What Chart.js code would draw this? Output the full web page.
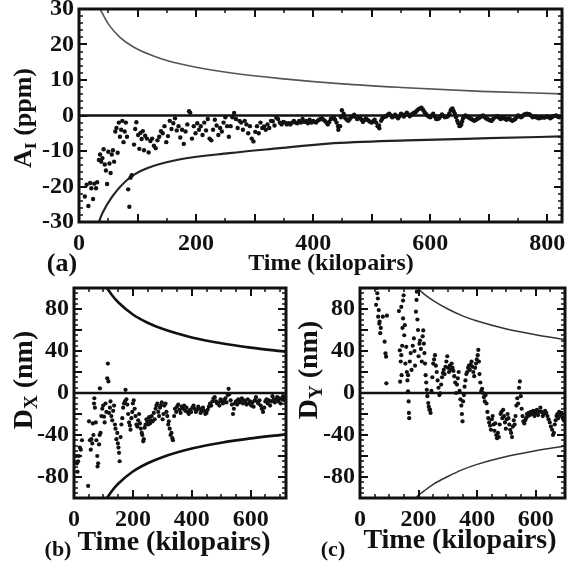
<!DOCTYPE html>
<html>
<head>
<meta charset="utf-8">
<script src="https://cdn.jsdelivr.net/npm/chart.js@4.4.0/dist/chart.umd.min.js"></script>
<style>
  body { margin:0; background:#fff; width:569px; height:567px; position:relative; overflow:hidden;
         font-family:"Liberation Serif", "Times New Roman", serif; font-weight:bold; color:#111; }
  canvas { position:absolute; }
  .lbl { position:absolute; white-space:nowrap; transform:translate(-50%,-50%); line-height:1; }
  .rot { transform:translate(-50%,-50%) rotate(-90deg); }
  sub { font-size:68%; vertical-align:baseline; position:relative; top:0.28em; }
</style>
</head>
<body>
<canvas id="chartA" width="569" height="260" style="left:0;top:0"></canvas>
<canvas id="chartB" width="290" height="262" style="left:0;top:270px"></canvas>
<canvas id="chartC" width="279" height="262" style="left:290px;top:270px"></canvas>

<div class="lbl rot" style="left:23px;top:118px;font-size:26px">A<sub>I</sub> (ppm)</div>
<div class="lbl" style="left:331px;top:262px;font-size:24px">Time (kilopairs)</div>
<div class="lbl" style="left:62px;top:263px;font-size:26px">(a)</div>

<div class="lbl rot" style="left:23px;top:380px;font-size:28px">D<sub>X</sub> (nm)</div>
<div class="lbl" style="left:174px;top:541px;font-size:28px">Time (kilopairs)</div>
<div class="lbl" style="left:58px;top:549px;font-size:22px">(b)</div>

<div class="lbl rot" style="left:308px;top:370px;font-size:28px">D<sub>Y</sub> (nm)</div>
<div class="lbl" style="left:460px;top:539px;font-size:28px">Time (kilopairs)</div>
<div class="lbl" style="left:333px;top:549px;font-size:22px">(c)</div>

<script>
// ---- panel (a): A_I (ppm) vs time
const aTime = [10,13,16,19,21,24,26,29,31,34,36,38,40,42,44,46,48,50,52,54,56,58,60,62,64,66,68,70,72,74,76,78,80,82,84,86,88,90,94,96,98,101,103,105,107,109,111,113,116,119,122,125,128,131,134,137,140,143,146,149,152,155,158,161,164,167,170,173,176,179,182,185,188,190,193,196,199,202,205,208,211,214,217,220,223,226,229,232,235,238,241,244,247,250,253,256,259,
  262,265,268,271,274,277,280,283,286,289,292,295,298,301,304,307,310,313,316,319,322,325,328,331,334,337,340,343,346,349,352,355,358,361,364,367,370,373,376,379,382,385,388,391,394,397,
  400,405,410,415,420,425,430,435,440,443,446,449,452,455,460,465,470,475,480,485,490,495,500,505,510,513,516,520,525,530,535,540,545,550,555,560,565,570,575,580,585,590,595,600,605,610,615,620,625,630,635,638,642,646,650,653,656,660,665,670,675,680,685,690,695,700,705,710,715,720,725,730,735,740,745,750,755,760,765,770,775,780,785,790,795,800,805,810,815,820,
  402.5,407.5,412.5,417.5,422.5,427.5,432.5,437.5,442.5,447.5,452.5,457.5,462.5,467.5,472.5,477.5,482.5,487.5,492.5,497.5,502.5,507.5,512.5,517.5,522.5,527.5,532.5,537.5,542.5,547.5,552.5,557.5,562.5,567.5,572.5,577.5,582.5,587.5,592.5,597.5,602.5,607.5,612.5,617.5,622.5,627.5,632.5,636.5,640,644,648,651.5,654.5,657.5,662.5,667.5,672.5,677.5,682.5,687.5,692.5,697.5,702.5,707.5,712.5,717.5,722.5,727.5,732.5,737.5,742.5,747.5,752.5,757.5,762.5,767.5,772.5,777.5,782.5,787.5,792.5,797.5,802.5,807.5,812.5,817.5];
const aValue = [-22.8,-19.5,-25.5,-19.0,-20.5,-23.5,-19.2,-20.5,-18.8,-12.5,-11.0,-13.0,-12.0,-9.5,-13.8,-15.5,-19.3,-10.2,-13.5,-16.2,-11.0,-9.8,-13.0,-4.5,-3.5,-10.5,-2.0,-6.0,-4.0,-1.5,-7.5,-4.5,-2.0,-6.0,-20.8,-25.7,-17.5,-16.8,-8.2,-3.8,-1.9,-5.5,-9.4,-4.9,-6.6,-4.4,-9.8,-5.7,-6.5,-10.4,-7.2,-6.5,-8.5,-9.2,-7.0,-6.0,-4.4,-5.0,-3.0,-7.5,-5.8,-1.5,-3.8,-2.2,-0.8,-4.2,-3.0,-6.2,-4.0,-8.0,-4.5,-2.5,1.2,0.8,-6.5,-3.0,-5.0,-2.2,-4.0,-3.0,-5.5,-2.0,-4.2,-1.0,-6.5,-7.0,-4.0,-1.2,-2.8,-5.5,-3.5,-4.5,-2.0,-0.5,-3.0,-6.0,-3.0,
  -0.5,0.7,-1.0,-3.5,-1.5,-2.0,-4.0,-1.5,-2.5,-5.0,-3.0,-6.5,-7.3,-4.6,-3.0,-5.0,-2.0,-3.5,-3.1,-4.0,-2.5,-3.5,-1.5,-1.6,-2.8,-0.6,-1.0,-2.0,-2.5,-1.8,-2.0,-2.5,-2.2,-2.5,-2.0,-1.5,-2.0,-2.2,-1.5,-2.0,-1.0,-1.8,-1.5,-2.2,-1.2,-2.0,
  -1.5,-2.0,-1.2,-0.8,-1.5,-2.5,-1.0,-0.5,-2.0,-4.0,-3.0,1.5,0.5,-0.8,-1.5,-0.5,0.2,-1.0,-0.5,-1.8,-0.8,-1.5,-2.0,-1.2,-3.0,-3.6,-1.5,-0.5,-0.2,0.5,-0.5,0.2,-0.8,0.5,-0.3,0.8,-0.2,0.5,1.0,1.8,2.2,1.0,0.0,-0.5,0.5,-1.0,-0.8,0.3,-0.5,-0.2,1.5,2.0,0.5,-1.5,-3.0,-2.5,-0.8,0.0,-0.5,-1.0,-1.5,-1.0,-0.5,0.0,-0.8,-1.2,-1.5,-0.5,-0.2,-1.0,-0.5,-1.2,-0.8,-1.5,-1.0,0.0,-0.5,0.2,0.5,0.3,-0.5,-0.3,-0.8,-0.5,-0.6,-0.3,-0.8,-0.2,0.0,-0.5,
  -1.8,-1.5,-1.0,-1.2,-2.0,-1.8,-0.8,-1.2,-3.0,-0.5,0.0,-1.2,-1.0,-0.2,-0.4,-0.8,-1.2,-1.3,-1.2,-1.8,-1.6,-2.0,-2.8,-1.0,-0.3,0.2,0.0,-0.2,-0.3,-0.2,0.2,0.3,0.3,0.2,0.8,1.4,2.0,1.6,0.5,-0.3,0.0,-0.3,-1.0,-0.2,-0.1,-0.4,0.6,1.8,1.2,-0.5,-2.2,-2.8,-1.6,-0.4,-0.2,-0.8,-1.2,-1.3,-0.8,-0.2,-0.4,-1.0,-1.4,-1.0,-0.3,-0.6,-0.8,-0.9,-1.0,-1.2,-1.3,-0.5,-0.2,-0.2,0.4,0.4,-0.1,-0.4,-0.6,-0.7,-0.5,-0.4,-0.5,-0.5,-0.1,-0.3];
const aUpperTime = [36,50,70,93,125,150,200,264,345,450,550,687,825];
const aUpperValue = [30,25.8,22,19.3,16.9,15.5,13.6,11.9,10.4,8.9,7.9,6.8,6.1];
const aLowerTime = [34,40,57,86,114,171,257,343,426,560,700,825];
const aLowerValue = [-30,-27.5,-22.8,-17.6,-15.0,-12.4,-10.6,-9.2,-7.9,-7.0,-6.4,-5.9];
const aXLabels = [0, 200, 400, 600, 800];
const aYLabels = [-30, -20, -10, 0, 10, 20, 30];
const aTicks = { xMax: 825, xMajor: 100, xMinor: 50, yMin: -30, yMax: 30, yMajor: 10, yMinor: 2 };

// ---- panel (b): D_X (nm) vs time
const bTime = [8,10,12,14,17,20,23,27,48,51,54,57,59,62,64,66,68,69,71,74,76,79,80,82,85,87,88,90,93,96,99,102,104,107,110,113,115,117,119,122,124,127,130,133,136,139,141,144,147,149,151,153,155,158,161,164,167,170,173,175,178,181,184,187,190,192,195,198,200,203,206,209,212,215,218,221,224,227,230,232,235,237,240,243,246,249,252,255,258,261,264,267,271,274,277,280,283,286,289,292,295,298,301,304,307,311,314,317,320,322,325,328,331,334,336,340,343,347,350,354,358,362,366,370,374,378,382,386,390,394,398,402,406,410,414,418,422,426,430,434,438,442,446,450,454,458,462,466,470,474,478,482,486,490,494,498,502,506,510,514,518,522,525,528,532,536,540,543,546,550,554,558,562,566,570,574,578,582,586,590,594,598,602,606,610,614,618,622,626,630,634,638,642,646,650,654,658,662,666,670,674,678,682,686,690,694,698,702,706,710,714,718];
const bValue = [-60,-67,-75,-65,-60,-52,-54,-45,-88.5,-27,-45,-54,-44,-48,-29,-40,-10,-5,-14,-28,-45,-60,-70,-67,-49,-40,4.4,-38,-22,-15,-12,-22.5,-28,-10,-18,14,28,11,-19,-14,-8,-22,-26,-17,-12,-30,-34,-44,-38,-48,-52,-57,-65,-42,-30,-24,-14,-10,-8,3,-6,-11,-20,-28,-31,-35,-24,-18,-10,-7,-15,-22,-30,-32,-26,-20,-29,-34,-38,-40,-46,-44,-33,-30,-25,-27,-30,-23,-29,-26,-22,-27,-19,-25,-15,-12,-10,-18,-22,-14,-12,-9,-25,-20,-12,-10,-18,-22,-30,-27,-34,-40,-38,-43,-45,-22,-15,-18,-13,-11,-16,-19,-13,-15,-12,-17,-14,-18,-20,-16,-18,-14,-12,-15,-18,-16,-13,-15,-19,-17,-14,-17,-20,-19,-16,-13,-10,-12,-8,-5,-4,-8,-10,-9,-12,-6,-8,-10,-7,-5,-9,-2,4,-1,-7,-11,-20,-15,-10,-8,-11,-6,-9,-8,-5,-10,-7,-9,-11,-6,-10,-8,-12,-9,-13,-7,-4,-8,-10,-7,-12,-15,-18,-14,-8,-6,-10,-7,-12,-8,-3,-6,-9,-6,-4,-8,-5,-10,-6,-3,-7,-5];
const bUpperTime = [112,130,150,200,250,300,400,500,600,720];
const bUpperValue = [100,92.8,86.4,74.8,66.9,61.1,52.9,47.3,43.2,39.4];
const bLowerTime = [112,130,150,200,250,300,400,500,600,720];
const bLowerValue = [-100,-92.8,-86.4,-74.8,-66.9,-61.1,-52.9,-47.3,-43.2,-39.4];
const bXLabels = [0, 200, 400, 600];
const bYLabels = [-80, -40, 0, 40, 80];
const bTicks = { xMax: 720, xMajor: 200, xMinor: 50, yMin: -100, yMax: 100, yMajor: 20, yMinor: 5 };

// ---- panel (c): D_Y (nm) vs time
const cTime = [55,57,59,61,62,64,66,67,69,71,78,84,87,89,90,92,133,136,137,139,141,141,142,144,145,147,147,149,151,153,155,158,160,162,164,164,166,167,168,170,173,176,180,184,186,188,191,193,194,196,198,200,203,205,208,211,214,216,218,220,222,224,226,228,230,233,235,237,239,241,244,247,250,253,256,259,262,265,268,271,274,277,280,283,286,289,292,295,298,301,304,307,310,313,316,319,322,325,328,331,334,337,340,343,346,348,350,352,355,357,360,363,366,369,372,375,378,381,384,387,390,393,396,399,402,404,406,408,411,414,417,420,423,426,429,432,435,438,441,444,447,450,453,456,459,462,465,468,471,474,477,480,483,486,489,492,495,498,501,504,507,510,513,516,519,522,525,528,531,534,537,540,543,546,549,552,555,558,561,564,567,570,573,576,580,584,588,592,596,600,604,608,612,616,620,624,628,632,636,640,644,648,652,656,659,662,665,668,671,674,677,680,684,688,692,696];
const cValue = [84,100,95,90,72.7,79,66,68,57,62,72.7,48.9,37.8,34.6,9.2,73.6,78,40.6,10.8,30,82,36,17,45,62,88,71,93,55,64.6,28,44,20,12,17,1.6,-8,-19,-24,30,38,22,45,52,40,26,77.5,88.6,96.5,70,60,35,47,50,42,30,54,59.6,47,38,28,17,10,3,-3,-9.5,-13,-16,-15.8,-19,2,15,28,32,36,26,20,12,5,-2,-0.3,8,15,19,22,18,25,30,35,24,20,26,22,28,24,21,16,10,0,8,14,20,2,-6,-12,-20,-27,-8,-2,6,12,18,20,24,26,22,27,30,25,20,16,24,28,32,36,41,30,18,10,2,4,0,-4,-8,-2,-10,-18,-24,-28,-31,-35,-25,-22,-30,-36,-28.9,-40,-43,-38,-42,-30,-20,-18,-24,-16,-22,-28,-34,-25,-20,-24,-30,-35,-38,-42,-32,-26,-30,-22,-12,-5,-10,5,11,-3,-15,-22,-27,-29,-26,-24,-20,-22,-19,-21,-18,-20,-17,-22,-19,-16,-21,-17.8,-14,-18,-22,-20,-17,-19,-22,-25,-28,-32,-35,-40,-38,-30,-26,-22,-20,-24,-18,-21,-19,-23,-26];
const cUpperTime = [195,220,250,300,350,400,500,600,700];
const cUpperValue = [100,94,88,80,73.5,68.5,61,55.5,51];
const cLowerTime = [188,220,250,300,350,400,500,600,700];
const cLowerValue = [-100,-93,-87,-79.5,-73,-68,-60.5,-55,-50.5];
const cXLabels = [0, 200, 400, 600];
const cYLabels = [-80, -40, 0, 40, 80];
const cTicks = { xMax: 700, xMajor: 200, xMinor: 50, yMin: -100, yMax: 100, yMajor: 20, yMinor: 5 };

const INK = '#111';
const tickFont = { family: 'Liberation Serif', size: 24, weight: 'bold' };

// inward ticks on all four sides + heavy frame
const framePlugin = {
  id: 'frame',
  afterDatasetsDraw(chart, args, opts) {
    const { ctx, chartArea: a, scales: { x, y } } = chart;
    ctx.save();
    ctx.strokeStyle = INK;
    const drawTicks = (scale, step, len, lw) => {
      ctx.lineWidth = lw;
      ctx.beginPath();
      for (let v = Math.ceil(scale.min / step) * step; v <= scale.max + 1e-9; v += step) {
        const p = Math.round(scale.getPixelForValue(v));
        if (scale.isHorizontal()) {
          ctx.moveTo(p, a.bottom); ctx.lineTo(p, a.bottom - len);
          ctx.moveTo(p, a.top); ctx.lineTo(p, a.top + len);
        } else {
          ctx.moveTo(a.left, p); ctx.lineTo(a.left + len, p);
          ctx.moveTo(a.right, p); ctx.lineTo(a.right - len, p);
        }
      }
      ctx.stroke();
    };
    drawTicks(x, opts.xMinor, 4, 1.5);
    drawTicks(x, opts.xMajor, 8, 2);
    drawTicks(y, opts.yMinor, 4, 1.5);
    drawTicks(y, opts.yMajor, 8, 2);
    ctx.lineWidth = 3;
    ctx.strokeRect(a.left, a.top, a.right - a.left, a.bottom - a.top);
    ctx.restore();
  }
};

function makePanel(id, p) {
  const pairs = (xs, ys) => xs.map((t, i) => ({ x: t, y: ys[i] }));
  const zero = [{ x: 0, y: 0 }, { x: p.ticks.xMax, y: 0 }];
  const curve = (data, color, width) => ({
    data, showLine: true, borderColor: color, borderWidth: width,
    pointRadius: 0, cubicInterpolationMode: 'monotone', order: 2
  });

  return new Chart(document.getElementById(id), {
    type: 'scatter',
    data: {
      datasets: [
        { data: zero, showLine: true, borderColor: INK, borderWidth: 2.5, pointRadius: 0, order: 3 },
        curve(pairs(p.upperTime, p.upperValue), p.upperColor, p.upperWidth),
        curve(pairs(p.lowerTime, p.lowerValue), p.lowerColor, p.lowerWidth),
        { data: pairs(p.time, p.value), pointRadius: p.dot, backgroundColor: INK, borderWidth: 0, order: 1 }
      ]
    },
    options: {
      responsive: false,
      animation: false,
      layout: { padding: p.pad },
      plugins: {
        legend: { display: false },
        tooltip: { enabled: false },
        frame: p.ticks
      },
      scales: {
        x: {
          type: 'linear', min: 0, max: p.ticks.xMax,
          grid: { display: false, drawTicks: false }, border: { display: false },
          ticks: { padding: 7, color: INK, font: tickFont, maxRotation: 0, autoSkip: false, callback: v => String(v) },
          afterBuildTicks: s => { s.ticks = p.xLabels.map(v => ({ value: v })); },
          afterFit: s => { s.height = p.xh; s.paddingLeft = 0; s.paddingRight = 0; }
        },
        y: {
          type: 'linear', min: p.ticks.yMin, max: p.ticks.yMax,
          grid: { display: false, drawTicks: false }, border: { display: false },
          ticks: { padding: 5, color: INK, font: tickFont, autoSkip: false, callback: v => String(v) },
          afterBuildTicks: s => { s.ticks = p.yLabels.map(v => ({ value: v })); },
          afterFit: s => { s.width = p.yw; s.paddingTop = 0; s.paddingBottom = 0; }
        }
      }
    },
    plugins: [framePlugin]
  });
}

makePanel('chartA', {
  time: aTime, value: aValue,
  upperTime: aUpperTime, upperValue: aUpperValue, lowerTime: aLowerTime, lowerValue: aLowerValue,
  xLabels: aXLabels, yLabels: aYLabels, ticks: aTicks, dot: 2.2,
  upperColor: '#555', upperWidth: 1.6, lowerColor: '#222', lowerWidth: 2.2,
  pad: { left: 0, top: 9, right: 7, bottom: 0 }, yw: 79, xh: 38
});
makePanel('chartB', {
  time: bTime, value: bValue,
  upperTime: bUpperTime, upperValue: bUpperValue, lowerTime: bLowerTime, lowerValue: bLowerValue,
  xLabels: bXLabels, yLabels: bYLabels, ticks: bTicks, dot: 2.1,
  upperColor: '#111', upperWidth: 2.6, lowerColor: '#111', lowerWidth: 2.6,
  pad: { left: 0, top: 18, right: 3, bottom: 0 }, yw: 74, xh: 34
});
makePanel('chartC', {
  time: cTime, value: cValue,
  upperTime: cUpperTime, upperValue: cUpperValue, lowerTime: cLowerTime, lowerValue: cLowerValue,
  xLabels: cXLabels, yLabels: cYLabels, ticks: cTicks, dot: 2.1,
  upperColor: '#333', upperWidth: 1.5, lowerColor: '#333', lowerWidth: 1.5,
  pad: { left: 0, top: 18, right: 3, bottom: 0 }, yw: 70, xh: 34
});
</script>
</body>
</html>
